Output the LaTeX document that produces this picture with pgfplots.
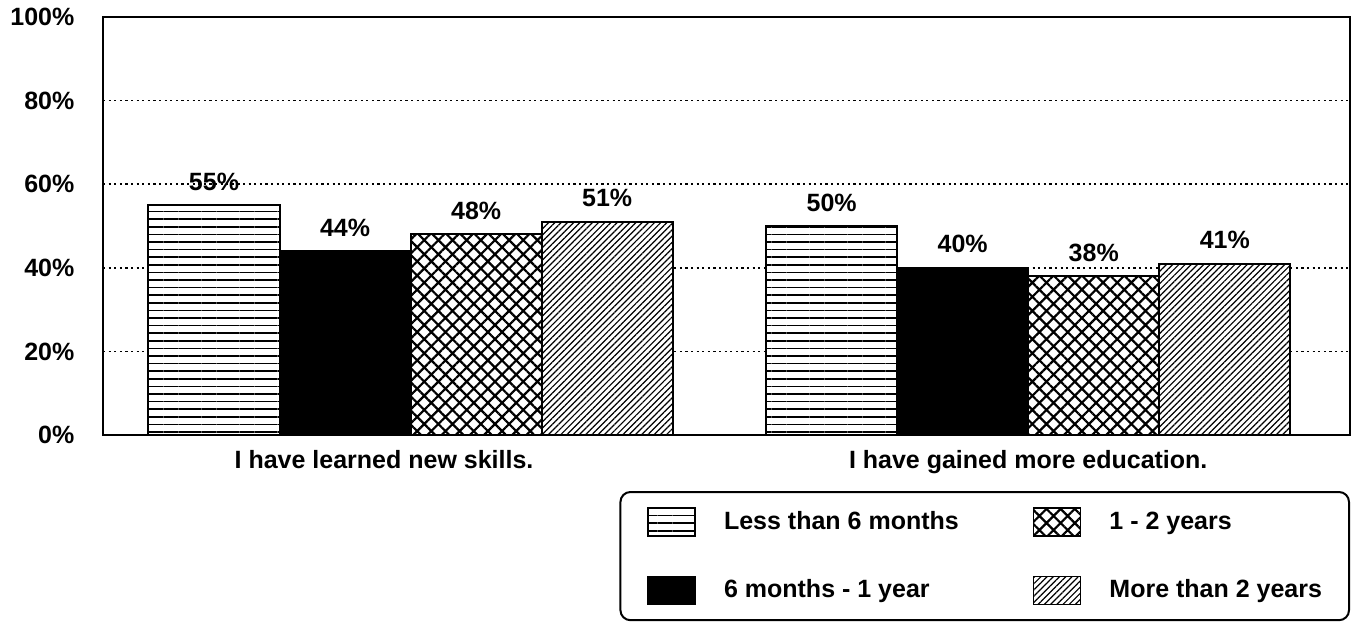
\documentclass[border=0pt]{standalone}
\usepackage{fontspec}
\setmainfont{Liberation Sans}
\usepackage{pgfplots}
\pgfplotsset{compat=1.18}
\usetikzlibrary{patterns.meta}
\newcommand\f{\fontsize{12.5}{15}\selectfont\bfseries}
\begin{document}
\begin{tikzpicture}
\useasboundingbox (0pt,0pt) rectangle (679pt,311pt);
\begin{axis}[
  at={(51.5pt,93.5pt)}, anchor=south west,
  scale only axis, width=623.5pt, height=209pt,
  xmin=-0.498, xmax=1.521, ymin=0, ymax=100,
  ybar=0pt, bar width=0.2122,
  /pgf/number format/assume math mode=true,
  ytick={0,20,40,60,80,100},
  yticklabels={0\%,20\%,40\%,60\%,80\%,100\%},
  xtick={-0.043,1},
  xticklabels={I have learned new skills., I have gained more education.},
  major tick length=0pt,
  tick style={draw=none},
  tick label style={font=\f},
  yticklabel style={xshift=-10.8pt},
  xticklabel style={yshift=-4.3pt},
  axis line style={line width=0.8pt},
  ymajorgrids,
  major grid style={black, line width=0.8pt, dash pattern=on 1.1pt off 1.7pt},
  nodes near coords={\pgfmathprintnumber[assume math mode=true]{\pgfplotspointmeta}\%},
  every node near coord/.append style={font=\f, yshift=3.5pt},
  mybar/.style={draw=black, line width=1pt,
    legend image code/.code={\draw[##1, line width=0.8pt, sharp corners] (0pt,-7pt) rectangle (23.5pt,7pt);}},
  legend columns=2, transpose legend,
  legend cell align=left,
  legend style={at={(rel axis cs:1,0)}, anchor=north east, yshift=-28pt,
    draw=black, line width=1pt, rounded corners=5pt,
    inner xsep=13.5pt, inner ysep=7.5pt, row sep=19.5pt,
    font=\f, nodes={inner sep=0pt},
    /tikz/every odd column/.append style={column sep=14pt},
    /tikz/every even column/.append style={column sep=37pt}},
]
\addplot[mybar, bar shift=-0.3183, fill=white,
  postaction={pattern={Lines[angle=0,distance=3.8pt,line width=0.8pt]}}]
  coordinates {(0,55) (1,50)};
\addlegendentry{Less than 6 months}
\addplot[mybar, bar shift=-0.1061, fill=black]
  coordinates {(0,44) (1,40)};
\addlegendentry{6 months - 1 year}
\addplot[mybar, bar shift=0.1061, fill=white,
  postaction={pattern={Hatch[angle=45,distance=5pt,line width=1.1pt]}}]
  coordinates {(0,48) (1,38)};
\addlegendentry{1 - 2 years}
\addplot[mybar, bar shift=0.3183, fill=white,
  postaction={pattern={Lines[angle=45,distance=2.2pt,line width=0.6pt]}}]
  coordinates {(0,51) (1,41)};
\addlegendentry{More than 2 years}
\end{axis}
\end{tikzpicture}
\end{document}
